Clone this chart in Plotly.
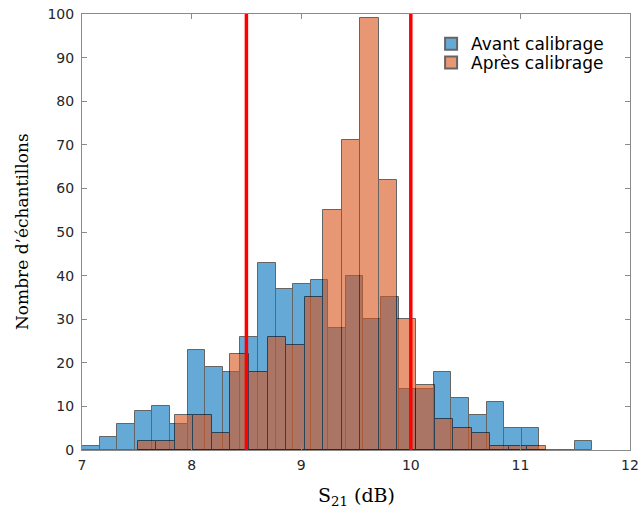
import plotly.graph_objects as go

# Avant calibrage histogram (29 bins)
avant_start = 7.0
avant_width = 0.1605
avant_counts = [1, 3, 6, 9, 10, 6, 23, 19, 18, 26, 43, 37, 38, 39, 28, 40, 30, 35,
                14, 14, 18, 12, 8, 11, 5, 5, 0, 0, 2]

# Après calibrage histogram (22 bins)
apres_start = 7.508
apres_width = 0.1693
apres_counts = [2, 2, 8, 8, 4, 22, 18, 26, 24, 35, 55, 71, 99, 62, 30, 15, 7, 5, 4, 1, 1, 1]

# Limits (red lines)
limits = [8.5, 10.0]

x_ticks = [7, 8, 9, 10, 11, 12]
y_ticks = list(range(0, 101, 10))

x_title = "S<sub>21</sub> (dB)"
y_title = "Nombre d’échantillons"


def centers(start, width, n):
    return [start + width * (i + 0.5) for i in range(n)]


fig = go.Figure()
fig.add_trace(go.Bar(
    x=centers(avant_start, avant_width, len(avant_counts)), y=avant_counts,
    width=avant_width, name="Avant calibrage", legend="legend",
    marker=dict(color="rgb(0,114,189)", line=dict(color="black", width=1)),
    opacity=0.6))
fig.add_trace(go.Bar(
    x=centers(apres_start, apres_width, len(apres_counts)), y=apres_counts,
    width=apres_width, name="Après calibrage", legend="legend2",
    marker=dict(color="rgb(217,83,25)", line=dict(color="black", width=1)),
    opacity=0.6))

for v in limits:
    fig.add_shape(type="line", x0=v, x1=v, y0=0, y1=1, xref="x", yref="paper",
                  line=dict(color="red", width=3.5), layer="above")

axis_common = dict(showgrid=False, zeroline=False, showline=True, linecolor="#8a8a8a",
                   linewidth=1, mirror="ticks", ticks="inside", ticklen=5, tickcolor="#8a8a8a",
                   automargin=False,
                   tickfont=dict(family="DejaVu Sans", size=14, color="#262626"))

legend_common = dict(x=0.637, xanchor="left", yanchor="middle",
                     bgcolor="rgba(255,255,255,0)", borderwidth=0,
                     font=dict(family="DejaVu Sans", size=17, color="black"),
                     itemsizing="constant")

fig.update_layout(
    width=639, height=518,
    margin=dict(l=82, r=9, t=14, b=68),
    paper_bgcolor="white", plot_bgcolor="white",
    barmode="overlay", bargap=0,
    showlegend=True,
    legend=dict(y=0.931, **legend_common),
    legend2=dict(y=0.888, **legend_common),
    xaxis=dict(range=[7, 12], tickvals=x_ticks, ticklabeloverflow="allow",
               ticklabelstandoff=2, **axis_common),
    yaxis=dict(range=[0, 100], tickvals=y_ticks, ticklabelstandoff=4, **axis_common),
    annotations=[
        dict(text=x_title, xref="paper", yref="paper", x=0.5, y=0, yshift=-46,
             xanchor="center", yanchor="middle", showarrow=False,
             font=dict(family="DejaVu Serif", size=19, color="black")),
        dict(text=y_title, xref="paper", yref="paper", x=0, y=0.5, xshift=-60,
             xanchor="center", yanchor="middle", textangle=-90, showarrow=False,
             font=dict(family="DejaVu Serif", size=17, color="black")),
    ],
)

fig.write_html("out.html", config={"displayModeBar": False},
               post_script="document.body.style.margin='0px';document.body.style.overflow='hidden';")
